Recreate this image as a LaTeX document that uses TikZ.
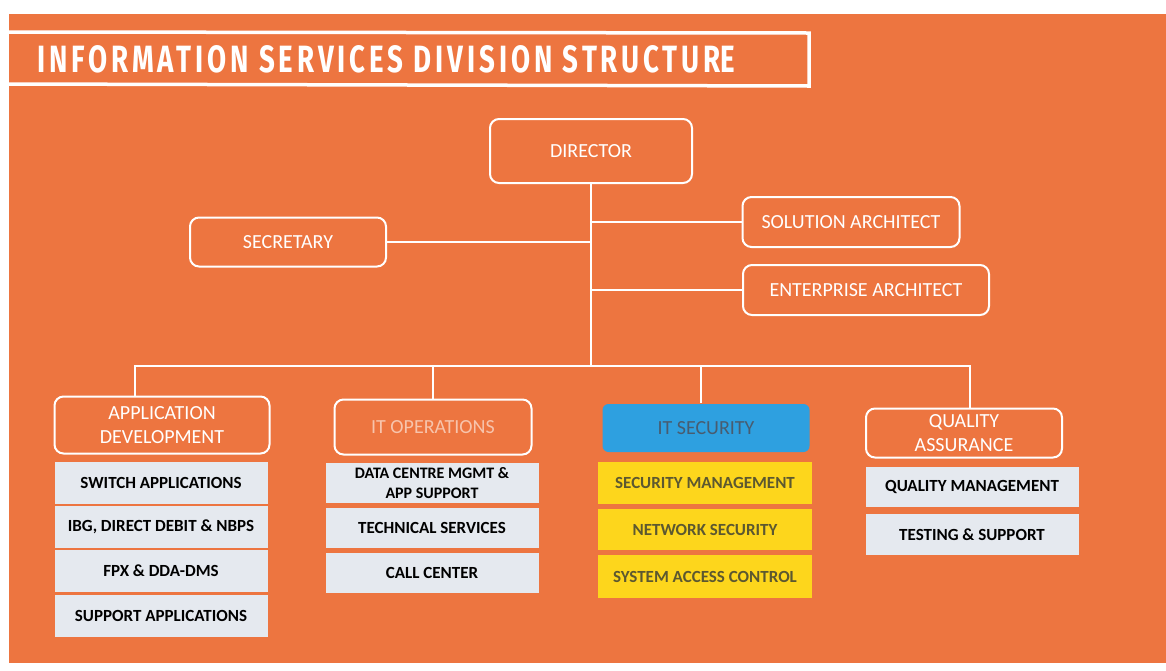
\documentclass[tikz,border=0pt]{standalone}
\usepackage{fontspec}
\setmainfont{Carlito}
\newfontfamily\titlefont[LetterSpace=14]{Fira Sans}
\definecolor{bgorange}{RGB}{237,117,64}
\definecolor{unitgray}{RGB}{229,233,239}
\definecolor{secyellow}{RGB}{253,214,28}
\definecolor{secblue}{RGB}{46,160,224}
\definecolor{opstext}{RGB}{247,196,172}
\definecolor{sectext}{RGB}{72,92,112}
\definecolor{yeltext}{RGB}{92,88,48}
\begin{document}
\begin{tikzpicture}[x=1pt,y=-1pt,
  role/.style={draw=white, line width=2pt, rounded corners=9pt, text=white,
    font=\fontsize{20}{24}\selectfont, align=center, inner sep=0pt},
  unit/.style={fill=unitgray, text=black, font=\bfseries\fontsize{17}{20}\selectfont,
    align=center, inner sep=0pt, minimum width=213pt},
  secunit/.style={unit, fill=secyellow, text=yeltext},
  link/.style={draw=white, line width=2.5pt}]
\useasboundingbox (0,0) rectangle (1166,670);
\fill[white] (0,0) rectangle (1166,670);
\fill[bgorange] (9,14) rectangle (1166,663);

% title
\draw[white, line width=3.5pt] (9,32) -- (809,33) -- (809,86) -- (9,84);
\node[anchor=west, text=white, inner sep=0pt] (title) at (37,59)
  {\resizebox{698pt}{27pt}{\titlefont\bfseries INFORMATION SERVICES DIVISION STRUCTUR\addfontfeatures{LetterSpace=0}E}};

% top level
\node[role, minimum width=202pt, minimum height=64pt] (dir) at (591,151) {DIRECTOR};
\node[role, minimum width=196pt, minimum height=49pt] (sec) at (288,242) {SECRETARY};
\node[role, minimum width=217pt, minimum height=50pt] (sol) at (851,222) {SOLUTION ARCHITECT};
\node[role, minimum width=246pt, minimum height=50pt] (ent) at (866,290) {ENTERPRISE ARCHITECT};

% sections
\node[role, minimum width=215pt, minimum height=57pt] (appdev) at (162,425) {APPLICATION\\DEVELOPMENT};
\node[role, minimum width=197pt, minimum height=55pt, text=opstext] (itops) at (433,427) {IT OPERATIONS};
\node[role, draw=none, fill=secblue, rounded corners=6pt, minimum width=207pt, minimum height=48pt, text=sectext] (itsec) at (706,428) {IT SECURITY};
\node[role, minimum width=196pt, minimum height=49pt] (qa) at (964,433) {QUALITY\\ASSURANCE};

% units
\node[unit, minimum height=42pt] (sw) at (161,483) {SWITCH APPLICATIONS};
\node[unit, minimum height=42pt] (ibg) at (161,527) {IBG, DIRECT DEBIT \& NBPS};
\node[unit, minimum height=42pt] (fpx) at (161,571) {FPX \& DDA-DMS};
\node[unit, minimum height=42pt] (supp) at (161,616) {SUPPORT APPLICATIONS};

\node[unit, minimum height=40pt, font=\bfseries\fontsize{16}{20}\selectfont] (dc) at (432,483) {DATA CENTRE MGMT \&\\APP SUPPORT};
\node[unit, minimum height=40pt] (tech) at (432,528) {TECHNICAL SERVICES};
\node[unit, minimum height=40pt] (call) at (432,573) {CALL CENTER};

\node[secunit, minimum height=42pt, minimum width=214pt] (secm) at (705,483) {SECURITY MANAGEMENT};
\node[secunit, minimum height=41pt, minimum width=214pt] (net) at (705,529.5) {NETWORK SECURITY};
\node[secunit, minimum height=43pt, minimum width=214pt] (sac) at (705,576.5) {SYSTEM ACCESS CONTROL};

\node[unit, minimum height=40pt] (qm) at (972,487) {QUALITY MANAGEMENT};
\node[unit, minimum height=41pt] (test) at (972,534.5) {TESTING \& SUPPORT};

% connectors
\coordinate (bus) at (591,366);
\draw[link] (dir.south) -- (bus);
\draw[link] (sec.east) -- (sec.east -| dir.south);
\draw[link] (sol.west) -- (sol.west -| dir.south);
\draw[link] (ent.west) -- (ent.west -| dir.south);
\draw[link] ([xshift=-27pt]appdev.north) |- (bus) -| ([xshift=6pt]qa.north);
\draw[link] (itops.north) -- (itops.north |- bus);
\draw[link] ([xshift=-5pt]itsec.north) -- ([xshift=-5pt]itsec.north |- bus);
\end{tikzpicture}
\end{document}
